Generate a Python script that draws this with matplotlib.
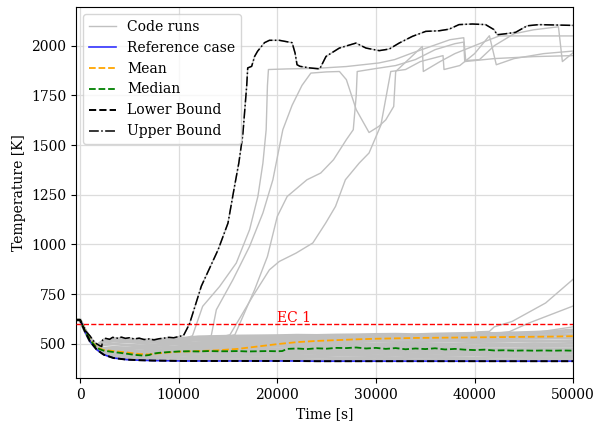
import matplotlib
matplotlib.use("Agg")
import matplotlib.pyplot as plt
import numpy as np

plt.rcParams["font.family"] = ["DejaVu Serif"]
plt.rcParams["font.size"] = 10

# Common time grid for the runs that stay in the nominal band
t_grid = [-400, 0, 500, 1000, 1700, 2400, 3400, 4700, 6000, 7400, 9000, 10500,
          12000, 14000, 16000, 18000, 20000, 22000, 24000, 26000, 28000, 30000,
          32000, 34000, 36000, 38000, 40000, 42000, 44000, 46000, 48000, 50000]

ref_case = [620, 620, 562, 512, 470, 445, 428, 420, 417, 415, 414, 413, 413, 413, 413, 413,
            413, 413, 412, 412, 412, 412, 412, 412, 412, 412, 412, 412, 412, 412, 412, 412]

band_runs = [
    [620, 620, 563, 514, 473, 449, 432, 424, 421, 420, 420, 419, 420, 421, 420, 419, 420, 421, 420, 420, 419, 420, 421, 420, 420, 421, 420, 419, 420, 421, 420, 420],
    [620, 620, 564, 516, 476, 452, 437, 430, 428, 430, 431, 429, 430, 432, 431, 430, 429, 431, 432, 430, 429, 431, 430, 432, 431, 430, 429, 431, 432, 431, 430, 431],
    [620, 620, 565, 518, 478, 456, 442, 436, 434, 437, 440, 441, 439, 440, 442, 441, 440, 439, 441, 443, 441, 440, 442, 441, 440, 442, 443, 441, 440, 442, 441, 440],
    [620, 620, 566, 519, 480, 460, 447, 441, 438, 442, 447, 450, 451, 449, 450, 452, 451, 450, 452, 451, 449, 451, 452, 450, 451, 453, 452, 450, 451, 452, 451, 452],
    [620, 620, 566, 520, 482, 463, 452, 446, 441, 447, 454, 458, 459, 457, 458, 460, 459, 458, 460, 461, 459, 458, 460, 461, 459, 460, 458, 459, 461, 460, 459, 460],
    [620, 620, 567, 521, 484, 466, 458, 452, 445, 451, 460, 465, 466, 464, 465, 467, 466, 468, 471, 470, 468, 469, 470, 468, 467, 466, 465, 466, 464, 465, 466, 465],
    [620, 620, 567, 522, 486, 468, 462, 457, 450, 456, 464, 470, 473, 472, 474, 476, 475, 477, 480, 481, 479, 480, 478, 479, 477, 478, 476, 474, 475, 476, 474, 475],
    [620, 620, 568, 523, 487, 470, 466, 462, 458, 462, 468, 474, 478, 480, 483, 485, 487, 488, 490, 489, 487, 488, 490, 489, 487, 486, 488, 487, 489, 488, 487, 488],
    [620, 620, 568, 524, 488, 472, 470, 468, 465, 468, 473, 479, 484, 488, 492, 495, 497, 498, 500, 499, 497, 498, 500, 501, 499, 500, 502, 500, 499, 501, 500, 502],
    [620, 620, 569, 525, 489, 478, 482, 480, 477, 479, 483, 488, 493, 498, 502, 505, 507, 509, 510, 508, 510, 512, 511, 510, 512, 514, 513, 512, 514, 515, 514, 516],
    [620, 620, 569, 526, 490, 495, 498, 494, 490, 492, 496, 500, 505, 509, 512, 515, 518, 519, 520, 518, 520, 522, 523, 521, 523, 525, 526, 524, 526, 528, 529, 531],
    [620, 620, 570, 527, 490, 508, 512, 509, 505, 506, 510, 514, 518, 520, 522, 524, 526, 528, 527, 529, 530, 532, 531, 533, 534, 536, 535, 537, 538, 540, 542, 545],
    [620, 620, 570, 528, 491, 515, 519, 517, 513, 514, 517, 522, 528, 530, 532, 533, 534, 536, 535, 537, 538, 540, 541, 540, 542, 544, 546, 547, 549, 551, 554, 558],
    [620, 620, 571, 529, 491, 518, 522, 521, 517, 519, 522, 528, 535, 537, 539, 540, 541, 543, 542, 544, 545, 547, 548, 546, 549, 551, 553, 552, 555, 558, 562, 570],
]

# Hottest run, which also defines the upper bound
hot_t = [-400, 0, 300, 600, 1000, 1500, 2000, 2200, 2300, 2600, 3000, 3300, 3800, 4200, 4600,
         5000, 5500, 6000, 6500, 7000, 7500, 8000, 8500, 9000, 9500, 10000, 10500, 11100,
         12300, 14000, 15000, 15600, 16100, 16500, 16900, 17000, 17400, 17700, 18000, 18700,
         19200, 20200, 21500, 21800, 22000, 22300, 23300, 24300, 24940, 26290, 27970, 28990,
         30330, 31340, 32350, 33700, 35050, 36400, 37410, 38420, 39770, 41110, 41960, 42290,
         43140, 44150, 45330, 46510, 50000]
hot_T = [620, 620, 590, 562, 540, 505, 490, 486, 520, 527, 522, 532, 528, 533, 527,
         530, 524, 528, 521, 524, 519, 525, 528, 532, 530, 536, 542, 600,
         790, 973, 1107, 1275, 1410, 1550, 1800, 1888, 1896, 1946, 1972, 2015,
         2027, 2027, 2015, 1963, 1904, 1896, 1888, 1883, 1946, 1988, 2013, 1988,
         1975, 1983, 2013, 2047, 2072, 2075, 2083, 2106, 2109, 2106, 2081, 2055,
         2060, 2067, 2100, 2106, 2102]

# Runs leaving the band during the transient
run_a_t = [-400, 0, 500, 1000, 1700, 2400, 4700, 7400, 10000, 11400, 12430, 14150, 15840,
           17190, 18030, 18540, 18870, 19000, 19100, 21000, 24000, 27000, 30300, 31900,
           33500, 35500, 37500, 38900, 39100, 40500, 42000, 44000, 46000, 48500, 48900, 50000]
run_a_T = [620, 620, 568, 523, 487, 472, 480, 495, 515, 540, 688, 788, 906,
           1074, 1241, 1409, 1577, 1800, 1880, 1883, 1886, 1895, 1913, 1930,
           1960, 1995, 2030, 2040, 1925, 1930, 2000, 2060, 2080, 2095, 1920, 1965]

run_b_t = [-400, 0, 500, 1000, 1700, 2400, 4700, 7400, 10000, 13300, 13820, 15500, 17190,
           18540, 19550, 20220, 20560, 21500, 22500, 23400, 25000, 26300, 27000, 28000,
           29300, 30300, 31000, 31800, 32000, 33500, 34700, 34800, 36500, 38000, 40000,
           41500, 42500, 50000]
run_b_T = [620, 620, 567, 522, 486, 470, 476, 490, 505, 540, 671, 822, 990,
           1158, 1325, 1493, 1577, 1700, 1800, 1862, 1868, 1870, 1829, 1678,
           1563, 1594, 1627, 1694, 1870, 1940, 1996, 1870, 1920, 1960, 2000,
           2030, 2049, 2049]

run_c_t = [-400, 0, 500, 1000, 1700, 2400, 4700, 7400, 10000, 14800, 15200, 17500, 19200,
           20200, 21900, 23600, 24900, 25900, 26900, 28300, 29300, 30500, 31500, 33000,
           34500, 36800, 36900, 38500, 40000, 41500, 42200, 44000, 47000, 50000]
run_c_T = [620, 620, 568, 523, 487, 472, 478, 493, 510, 540, 545, 738, 872,
           914, 956, 1007, 1107, 1191, 1325, 1409, 1460, 1600, 1870, 1880,
           1920, 1950, 1880, 1900, 1960, 2050, 1904, 1935, 1960, 1973]

run_d_t = [-400, 0, 500, 1000, 1700, 2400, 4700, 7400, 10000, 15300, 15700, 17700, 19000,
           20000, 21000, 23000, 24400, 25700, 27000, 27700, 28000, 28100, 30000, 32000,
           34000, 36000, 38000, 38900, 39000, 41000, 42000, 46000, 50000]
run_d_T = [620, 620, 567, 522, 486, 471, 477, 492, 508, 540, 545, 772, 939,
           1141, 1241, 1325, 1359, 1426, 1527, 1577, 1750, 1870, 1885, 1900,
           1930, 1980, 2010, 2018, 1920, 1930, 1935, 1945, 1950]

# Runs that start drifting upward near the end
run_e_t = [-400, 0, 500, 1000, 1700, 2400, 4700, 7400, 10000, 20000, 30000, 38000, 40400,
           41500, 42000, 43800, 47200, 50000]
run_e_T = [620, 620, 568, 523, 487, 471, 476, 490, 505, 520, 530, 538, 560,
           562, 585, 612, 705, 825]
run_f_t = [-400, 0, 500, 1000, 1700, 2400, 4700, 7400, 10000, 20000, 30000, 40000, 43500,
           45500, 50000]
run_f_T = [620, 620, 568, 523, 487, 470, 475, 488, 502, 518, 528, 540, 560,
           604, 690]
run_g_t = [-400, 0, 500, 1000, 1700, 2400, 4700, 7400, 10000, 20000, 30000, 40000, 46000,
           50000]
run_g_T = [620, 620, 568, 523, 487, 470, 474, 486, 500, 515, 526, 540, 555, 585]

escape_runs = [(run_a_t, run_a_T), (run_b_t, run_b_T), (run_c_t, run_c_T),
               (run_d_t, run_d_T), (run_e_t, run_e_T), (run_f_t, run_f_T),
               (run_g_t, run_g_T)]

# Statistics of the ensemble
mean_t = [-400, 0, 500, 1000, 1700, 2400, 3400, 4700, 6000, 7000, 8000, 10000, 12000, 14000,
          16000, 18000, 20000, 22000, 24000, 26000, 28000, 30000, 32000, 34000, 36000,
          38000, 40000, 42000, 44000, 46000, 48000, 50000]
mean_T = [620, 620, 566, 522, 482, 468, 463, 456, 448, 446, 452, 460, 463, 467,
          474, 486, 498, 508, 514, 518, 522, 525, 527, 529, 530,
          531, 532, 533, 534, 535, 536, 538]

median_t = [-400, 0, 500, 1000, 1700, 2400, 3400, 4700, 5500, 6500, 7000, 7400, 8000, 9000,
            10000, 11000, 12000, 13000, 14000, 15000, 16000, 17000, 18000, 19000, 20000,
            20500, 21000, 22000, 23000, 24000, 25000, 26000, 27000, 28000, 29000, 30000,
            31000, 32000, 33000, 34000, 35000, 36000, 37000, 38000, 39000, 40000, 41000,
            42000, 43000, 44000, 45000, 46000, 47000, 48000, 49000, 50000]
median_T = [620, 620, 565, 520, 478, 465, 458, 450, 444, 440, 443, 450, 454, 458,
            461, 462, 461, 463, 462, 462, 463, 461, 462, 463, 462,
            463, 474, 476, 473, 477, 475, 479, 478, 481, 476, 479,
            474, 478, 472, 476, 473, 477, 471, 474, 470, 468, 470,
            466, 467, 465, 466, 465, 466, 465, 466, 465]

ec1_limit = 600

lower_bound = np.min(np.vstack([ref_case] + band_runs), axis=0)

fig = plt.figure(figsize=(5.99, 4.21), dpi=100)
ax = fig.add_axes([0.127, 0.102, 0.830, 0.881])

run_color = "#c0c0c0"
for run in band_runs:
    ax.plot(t_grid, run, color=run_color, lw=2.0, zorder=2)
ax.plot(hot_t, hot_T, color=run_color, lw=1.0, zorder=2)
for i, (tt, TT) in enumerate(escape_runs):
    ax.plot(tt, TT, color=run_color, lw=1.0, zorder=2,
            label="Code runs" if i == 0 else None)

ax.plot(t_grid, ref_case, color="blue", lw=1.2, alpha=0.8, zorder=3, label="Reference case")
ax.plot(mean_t, mean_T, color="orange", ls="--", lw=1.3, zorder=4, label="Mean")
ax.plot(median_t, median_T, color="green", ls="--", lw=1.3, zorder=4, label="Median")
ax.plot(t_grid, lower_bound, color="black", ls="--", lw=1.4, zorder=5, label="Lower Bound")
ax.plot(hot_t, hot_T, color="black", ls="-.", lw=1.1, zorder=5, label="Upper Bound")

ax.axhline(ec1_limit, color="red", ls="--", lw=1.0, zorder=4)
ax.text(20000, ec1_limit - 4, "EC 1", color="red", ha="left", va="bottom")

ax.set_xlim(-400, 50000)
ax.set_xticks([0, 10000, 20000, 30000, 40000, 50000])
ax.grid(True, color="#dcdcdc", lw=0.9)
ax.set_axisbelow(True)
ax.set_xlabel("Time [s]")
ax.set_ylabel("Temperature [K]")
ax.legend(loc="upper left")

fig.savefig("out.png", dpi=100)
